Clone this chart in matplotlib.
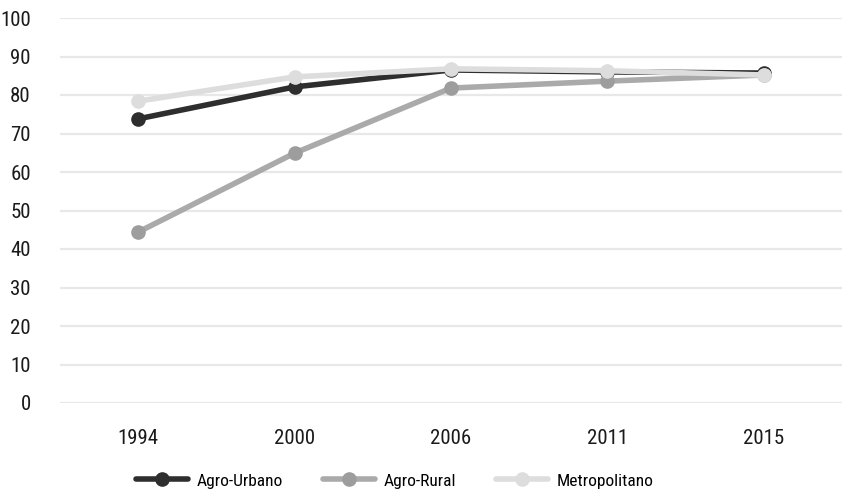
import matplotlib
matplotlib.use('Agg')
import matplotlib.pyplot as plt
import numpy as np

# data
years = ['1994', '2000', '2006', '2011', '2015']
agro_urbano = [73.8, 82.1, 86.5, 86.0, 85.7]
agro_rural = [44.4, 64.9, 81.8, 83.6, 85.2]
metropolitano = [78.4, 84.7, 86.8, 86.3, 85.2]
series_names = ['Agro-Urbano', 'Agro-Rural', 'Metropolitano']
y_ticks = [0, 10, 20, 30, 40, 50, 60, 70, 80, 90, 100]

plt.rcParams['font.family'] = ['Roboto Condensed', 'Roboto', 'DejaVu Sans']

W, H = 842, 493
fig = plt.figure(figsize=(W / 100, H / 100), dpi=100)
ax = fig.add_axes([60 / W, (H - 403) / H, (W - 60) / W, 385 / H])

x = np.arange(len(years))
styles = [
    (agro_urbano, '#2e2e2e', '#2e2e2e'),
    (agro_rural, '#aaaaaa', '#9d9d9d'),
    (metropolitano, '#dddddd', '#dddddd'),
]
for (vals, lc, mc), name in zip(styles, series_names):
    ax.plot(x, vals, color=lc, linewidth=4, marker='o', markersize=9.5,
            markerfacecolor=mc, markeredgecolor=mc, label=name,
            solid_capstyle='round', clip_on=False)

ax.set_xlim(-0.5, len(years) - 0.5)
ax.set_ylim(0, 100)
ax.set_xticks(x)
ax.set_xticklabels(years)
ax.set_yticks(y_ticks)
ax.tick_params(axis='both', length=0, labelsize=15, colors='#1a1a1a')
ax.tick_params(axis='y', pad=21)
ax.tick_params(axis='x', pad=19)
ax.grid(axis='y', color='#e8e8e8', linewidth=1.6)
ax.set_axisbelow(True)
for s in ax.spines.values():
    s.set_visible(False)

leg = fig.legend(loc='center', bbox_to_anchor=(0.469, 1 - 481 / H), ncol=3,
                 frameon=False, fontsize=12.5, handlelength=3.0,
                 columnspacing=2.3, handletextpad=0.5)

fig.savefig('out.png', dpi=100)
